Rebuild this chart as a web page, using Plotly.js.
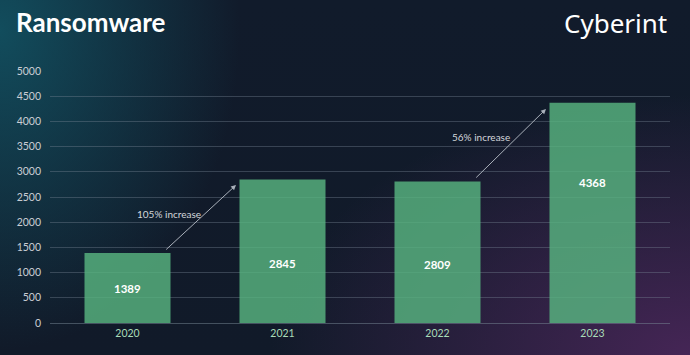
<!DOCTYPE html>
<html>
<head>
<meta charset="utf-8">
<script src="https://cdn.plot.ly/plotly-3.0.1.min.js"></script>
<style>
html,body{margin:0;padding:0;width:690px;height:355px;overflow:hidden;}
body{
  background:
    radial-gradient(ellipse 240px 320px at 0px 30px, rgba(18,82,98,0.9), rgba(18,82,98,0) 100%),
    radial-gradient(ellipse 420px 260px at 690px 355px, rgba(72,38,88,0.95), rgba(72,38,88,0) 100%),
    linear-gradient(180deg, #111b2b 0%, #111a29 100%);
}
#chart{width:690px;height:355px;}
</style>
</head>
<body>
<div id="chart"></div>
<script>
const years = ["2020", "2021", "2022", "2023"];
const counts = [1389, 2845, 2809, 4368];
const yTicks = [0, 500, 1000, 1500, 2000, 2500, 3000, 3500, 4000, 4500, 5000];
const chartTitle = "Ransomware";
const brand = "Cyberint";
const increaseNotes = [
  {text: "105% increase", from: 0, to: 1},
  {text: "56% increase", from: 2, to: 3}
];

// label placement within each bar (fraction of bar height) - style only
const labelFrac = [0.5, 0.418, 0.41, 0.636];

const trace = {
  type: "bar",
  x: years,
  y: counts,
  textposition: "none",
  marker: {color: "rgba(88,180,128,0.82)", line: {width: 0}},
  hoverinfo: "none"
};

const annotations = [
  {xref: "paper", yref: "paper", x: -0.058, y: 1.193, xanchor: "left", yanchor: "middle",
   text: "<b>" + chartTitle + "</b>", showarrow: false,
   font: {family: "Lato, 'Open Sans', sans-serif", size: 26, color: "#ffffff"}},
  {xref: "paper", yref: "paper", x: 0.998, y: 1.19, xanchor: "right", yanchor: "middle",
   text: brand, showarrow: false,
   font: {family: "'Noto Sans', 'Open Sans', sans-serif", size: 26, color: "#ffffff", weight: 400}}
];

years.forEach((yr, i) => {
  annotations.push({
    xref: "x", yref: "y", x: i, y: counts[i] * labelFrac[i],
    text: "<b>" + counts[i] + "</b>", showarrow: false,
    font: {family: "Lato, 'Open Sans', sans-serif", size: 11.5, color: "#ffffff"}
  });
});

const arrowOffsets = [
  {x0: 0.24, y0f: 1.03, x1: 0.70, y1f: 0.962, tx: 0.27, tyf: 0.76},
  {x0: 2.24, y0f: 1.017, x1: 2.70, y1f: 0.972, tx: 2.28, tyf: 0.845}
];
increaseNotes.forEach((n, i) => {
  const o = arrowOffsets[i];
  annotations.push({
    xref: "x", yref: "y", axref: "x", ayref: "y",
    x: o.x1, y: counts[n.to] * o.y1f, ax: o.x0, ay: counts[n.from] * o.y0f,
    showarrow: true, arrowhead: 2, arrowsize: 1, arrowwidth: 1,
    arrowcolor: "#a9b0ba", text: ""
  });
  annotations.push({
    xref: "x", yref: "y", x: o.tx, y: counts[n.to] * o.tyf,
    text: n.text, showarrow: false,
    font: {family: "Lato, 'Open Sans', sans-serif", size: 10, color: "#d3d6da"}
  });
});

const layout = {
  width: 690, height: 355,
  margin: {l: 50, r: 20, t: 71, b: 32},
  paper_bgcolor: "rgba(0,0,0,0)",
  plot_bgcolor: "rgba(0,0,0,0)",
  showlegend: false,
  bargap: 0.445,
  xaxis: {
    type: "category",
    range: [-0.5, 3.5],
    tickfont: {family: "Lato, 'Open Sans', sans-serif", size: 10.5, color: "#a9dcb8"},
    showgrid: false, zeroline: false, showline: false, ticks: "",
    ticklabelstandoff: 2,
    fixedrange: true
  },
  yaxis: {
    range: [0, 5000],
    tickvals: yTicks,
    ticktext: yTicks.map(String),
    tickfont: {family: "Lato, 'Open Sans', sans-serif", size: 10.5, color: "#c9cdd3"},
    gridcolor: "rgba(120,135,150,0.38)", gridwidth: 1,
    zeroline: true, zerolinecolor: "rgba(120,135,150,0.5)", zerolinewidth: 1,
    showline: false, ticks: "",
    ticklabelstandoff: 8,
    fixedrange: true
  },
  annotations: annotations
};

Plotly.newPlot("chart", [trace], layout, {displayModeBar: false, staticPlot: true});
</script>
</body>
</html>
